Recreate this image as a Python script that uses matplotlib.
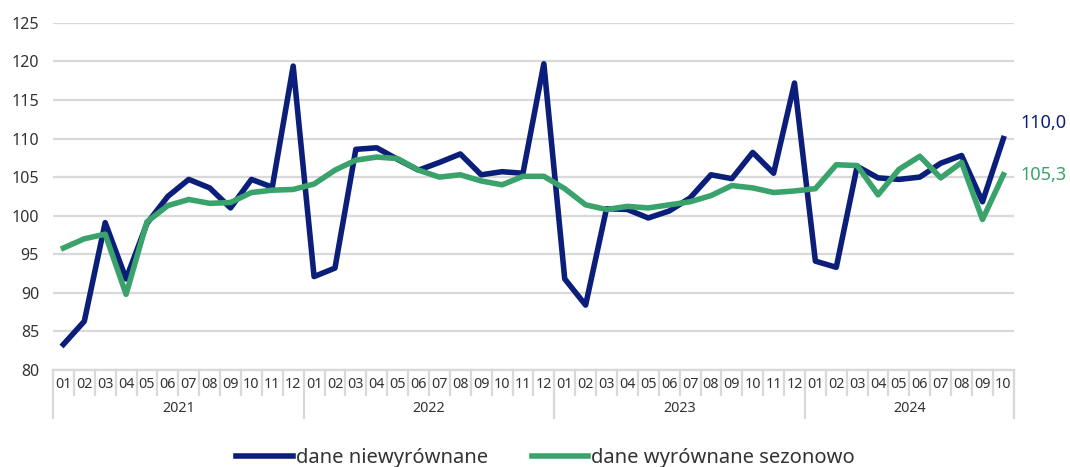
import numpy as np
import matplotlib.pyplot as plt
from matplotlib.transforms import blended_transform_factory

# dane miesieczne 2021-01 .. 2024-10
lata = ['2021', '2022', '2023', '2024']
miesiace = ['01', '02', '03', '04', '05', '06', '07', '08', '09', '10', '11', '12'] * 3 + \
           ['01', '02', '03', '04', '05', '06', '07', '08', '09', '10']

niewyrownane = [83.3, 86.3, 99.1, 91.8, 99.0, 102.5, 104.7, 103.6, 101.0, 104.7, 103.7, 119.4,
                92.1, 93.2, 108.6, 108.8, 107.3, 105.9, 106.9, 108.0, 105.3, 105.7, 105.5, 119.7,
                91.8, 88.4, 100.9, 100.8, 99.7, 100.6, 102.3, 105.3, 104.8, 108.2, 105.5, 117.2,
                94.1, 93.3, 106.4, 104.9, 104.7, 105.0, 106.8, 107.8, 101.8, 110.0]
wyrownane = [95.8, 97.0, 97.6, 89.8, 99.2, 101.3, 102.1, 101.6, 101.7, 103.0, 103.3, 103.4,
             104.1, 105.9, 107.2, 107.6, 107.4, 105.9, 105.0, 105.3, 104.5, 104.0, 105.1, 105.1,
             103.5, 101.4, 100.8, 101.2, 101.0, 101.4, 101.8, 102.6, 103.9, 103.6, 103.0, 103.2,
             103.5, 106.6, 106.5, 102.7, 106.0, 107.7, 104.9, 106.9, 99.5, 105.3]

plt.rcParams['font.family'] = ['Noto Sans', 'DejaVu Sans']

niebieski = '#0b1f7a'
zielony = '#3aa36b'
szary = '#d9d9d9'
tekst = '#333333'

fig = plt.figure(figsize=(10.7, 4.67), dpi=100)
ax = fig.add_axes([0.0495, 0.208, 0.898, 0.743])

x = np.arange(len(miesiace))
ax.plot(x, niewyrownane, color=niebieski, lw=4.0, label='dane niewyrównane')
ax.plot(x, wyrownane, color=zielony, lw=4.0, label='dane wyrównane sezonowo')

ax.set_xlim(-0.5, len(miesiace) - 0.5)
ax.set_ylim(80, 125)
ax.set_yticks(np.arange(80, 126, 5))
ax.grid(axis='y', color=szary, lw=1.6)
ax.set_axisbelow(True)
for s in ['left', 'right', 'top']:
    ax.spines[s].set_visible(False)
ax.spines['bottom'].set_color(szary)
ax.spines['bottom'].set_linewidth(1.6)
ax.tick_params(axis='y', length=0, labelsize=11.5, pad=10, colors=tekst)
ax.set_xticks(x)
ax.set_xticklabels(miesiace)
ax.tick_params(axis='x', length=0, labelsize=10.3, pad=5, colors=tekst)

# podzialki osi kategorii
tr = blended_transform_factory(ax.transData, ax.transAxes)
for i in range(len(miesiace) + 1):
    xx = i - 0.5
    if i % 12 == 0 or i == len(miesiace):
        ax.plot([xx, xx], [0, -0.138], color=szary, lw=1.6, transform=tr, clip_on=False)
    else:
        ax.plot([xx, xx], [0, -0.072], color=szary, lw=1.6, transform=tr, clip_on=False)
for k, rok in enumerate(lata):
    start = k * 12
    end = min(start + 12, len(miesiace))
    ax.text((start + end - 1) / 2, -0.11, rok, transform=tr, ha='center', va='center',
            fontsize=10.3, color=tekst)

# etykiety ostatnich wartosci
ax.annotate(f'{niewyrownane[-1]:.1f}'.replace('.', ','), (x[-1], niewyrownane[-1]),
            xytext=(12, 11), textcoords='offset points', color=niebieski, fontsize=13,
            va='center', annotation_clip=False)
ax.annotate(f'{wyrownane[-1]:.1f}'.replace('.', ','), (x[-1], wyrownane[-1]),
            xytext=(12, 0), textcoords='offset points', color=zielony, fontsize=13,
            va='center', annotation_clip=False)

leg = fig.legend(loc='lower center', bbox_to_anchor=(0.51, -0.04), ncol=2, frameon=False,
                 fontsize=14.5, handlelength=2.8, handletextpad=0.15, columnspacing=2.2)
for t in leg.get_texts():
    t.set_color(tekst)

fig.savefig('out.png', dpi=100)
